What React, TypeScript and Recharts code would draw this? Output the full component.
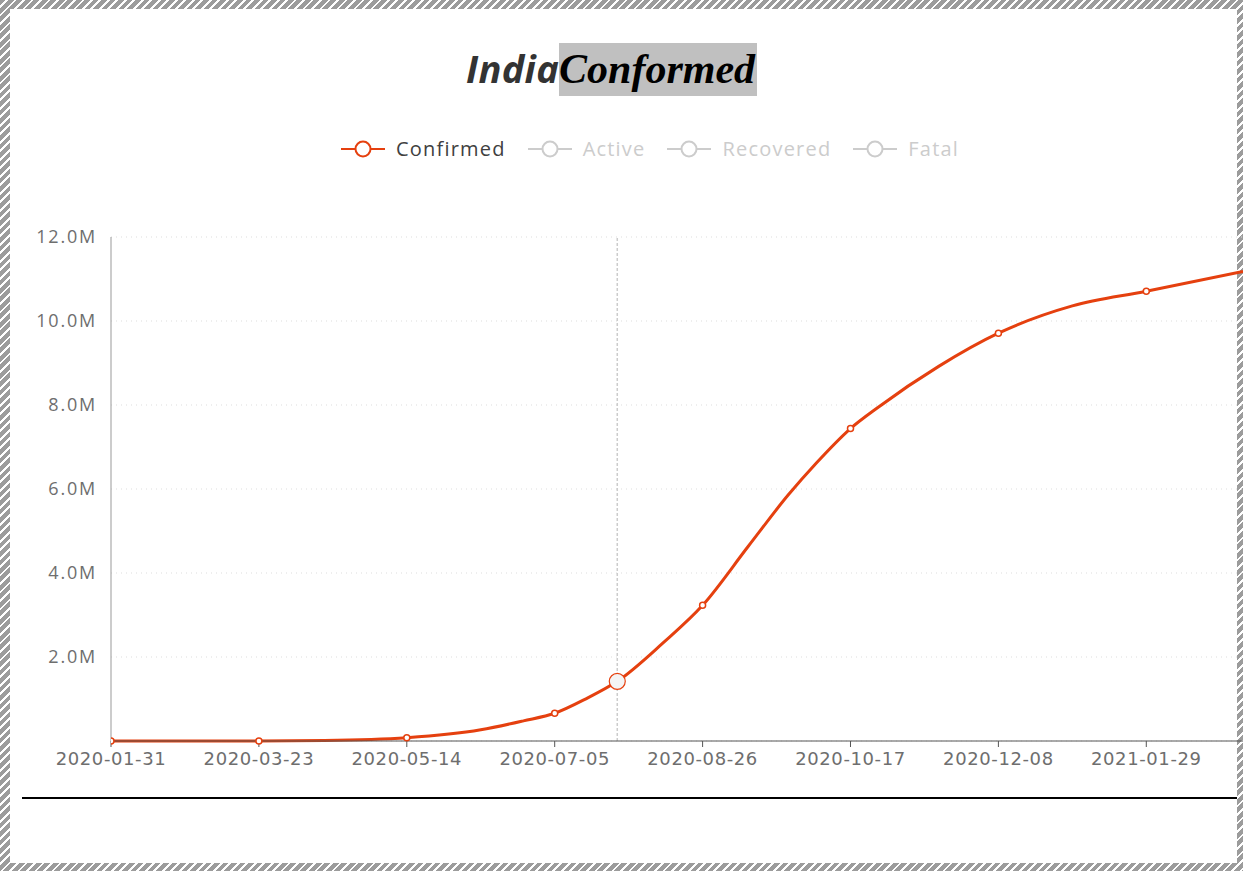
import React from 'react';
import { LineChart, Line, XAxis, YAxis, CartesianGrid, ReferenceLine, ReferenceDot } from 'recharts';

const dates = ['2020-01-31','2020-03-23','2020-04-15','2020-05-14','2020-06-09','2020-06-24','2020-07-05','2020-07-16','2020-07-27','2020-08-12','2020-08-26','2020-09-11','2020-09-25','2020-10-05','2020-10-17','2020-10-27','2020-11-17','2020-12-08','2021-01-03','2021-01-29','2021-03-04'];
const confirmed = [1, 500, 12000, 79000, 266000, 480000, 660000, 1005000, 1420000, 2330000, 3230000, 4630000, 5850000, 6620000, 7440000, 7960000, 8920000, 9710000, 10360000, 10710000, 11180000];
const tickDates = ['2020-01-31','2020-03-23','2020-05-14','2020-07-05','2020-08-26','2020-10-17','2020-12-08','2021-01-29'];
const yTicks = [0, 2000000, 4000000, 6000000, 8000000, 10000000, 12000000];
const legendNames = ['Confirmed', 'Active', 'Recovered', 'Fatal'];
const activeSeries = ['Confirmed'];
const hoverDate = '2020-07-27';
const lastDomainDate = '2021-03-04';

const START = Date.parse(dates[0]);
const dayIdx = (d: string) => Math.round((Date.parse(d) - START) / 86400000);
const data = dates.map((d, i) => ({ date: d, t: dayIdx(d), confirmed: confirmed[i] }));
const labelByDay: Record<number, string> = {};
tickDates.forEach((d) => { labelByDay[dayIdx(d)] = d; });

const RED = '#e5400f';

const Dot = (props: any) => {
  const { cx, cy, payload } = props;
  if (!tickDates.includes(payload.date)) return <g key={payload.date} />;
  return <circle key={payload.date} cx={cx} cy={cy} r={3} fill="#fff" stroke={RED} strokeWidth={1.5} />;
};

const LegendIcon = ({ color }: { color: string }) => (
  <svg width={44} height={18} style={{ display: 'block' }}>
    <line x1={0} y1={9} x2={44} y2={9} stroke={color} strokeWidth={2} />
    <circle cx={22} cy={9} r={7.5} fill="#fff" stroke={color} strokeWidth={2} />
  </svg>
);

export default function App() {
  const hatch = 'repeating-linear-gradient(135deg, #9c9c9c 0px, #9c9c9c 4px, #ffffff 4px, #ffffff 6px)';
  return (
    <div style={{ position: 'absolute', left: 0, top: 0, width: 1243, height: 871, background: hatch, overflow: 'hidden' }}>
      <div style={{ position: 'absolute', left: 10, top: 9, right: 6, bottom: 8, background: '#fff' }} />
      <div style={{ position: 'absolute', left: 22, top: 797, width: 1215, height: 2, background: '#000' }} />
      <div style={{ position: 'absolute', left: 466, top: 42, height: 53, whiteSpace: 'nowrap', lineHeight: '53px' }}>
        <span style={{ fontFamily: '"Open Sans", sans-serif', fontWeight: 700, fontStyle: 'italic', fontSize: 38, color: '#333', letterSpacing: 0.3 }}>India</span>
        <span style={{ fontFamily: '"Liberation Serif", serif', fontWeight: 700, fontStyle: 'italic', fontSize: 42, color: '#000', background: '#c0c0c0', display: 'inline-block', height: 53, lineHeight: '53px', paddingRight: 2 }}>Conformed</span>
      </div>
      <div style={{ position: 'absolute', left: 341, top: 135, display: 'flex', alignItems: 'center', whiteSpace: 'nowrap' }}>
        {legendNames.map((n) => {
          const on = activeSeries.includes(n);
          return (
            <div key={n} style={{ display: 'flex', alignItems: 'center', marginRight: 22 }}>
              <LegendIcon color={on ? RED : '#cccccc'} />
              <span style={{ marginLeft: 11, fontFamily: '"Open Sans", sans-serif', fontSize: 20, letterSpacing: 1.2, color: on ? '#404040' : '#cccccc' }}>{n}</span>
            </div>
          );
        })}
      </div>
      <div style={{ position: 'absolute', left: 0, top: 0 }}>
        <LineChart width={1243} height={871} data={data} margin={{ top: 237, right: 0, bottom: 90, left: 0 }} style={{ overflow: 'visible' }}>
          <CartesianGrid horizontal vertical={false} stroke="#dddddd" strokeDasharray="1 4" />
          <XAxis
            dataKey="t"
            type="number"
            domain={[0, dayIdx(lastDomainDate)]}
            ticks={tickDates.map(dayIdx)}
            tickFormatter={(v: number) => labelByDay[v] || ''}
            height={40}
            axisLine={{ stroke: '#555' }}
            tickLine={{ stroke: '#555' }}
            tickSize={6}
            tickMargin={5}
            tick={{ fill: '#6e6e6e', fontSize: 18, fontFamily: '"DejaVu Sans", sans-serif', letterSpacing: 0.6 }}
            interval={0}
            allowDataOverflow
          />
          <YAxis
            type="number"
            domain={[0, 12000000]}
            ticks={yTicks}
            tickFormatter={(v: number) => (v === 0 ? '' : (v / 1000000).toFixed(1) + 'M')}
            width={111}
            axisLine={{ stroke: '#999' }}
            tickLine={false}
            tickMargin={8}
            tick={{ fill: '#6e6e6e', fontSize: 18, fontFamily: '"Open Sans", sans-serif', letterSpacing: 1.8 }}
            interval={0}
          />
          <ReferenceLine x={dayIdx(hoverDate)} stroke="#cccccc" strokeWidth={1.5} strokeDasharray="3 2" />
          <Line
            type="monotone"
            dataKey="confirmed"
            stroke={RED}
            strokeWidth={3}
            dot={Dot}
            activeDot={false}
            isAnimationActive={false}
          />
          <ReferenceDot x={dayIdx(hoverDate)} y={confirmed[dates.indexOf(hoverDate)]} r={8} fill="#f4f4f4" stroke={RED} strokeWidth={1.2} />
        </LineChart>
      </div>
    </div>
  );
}
